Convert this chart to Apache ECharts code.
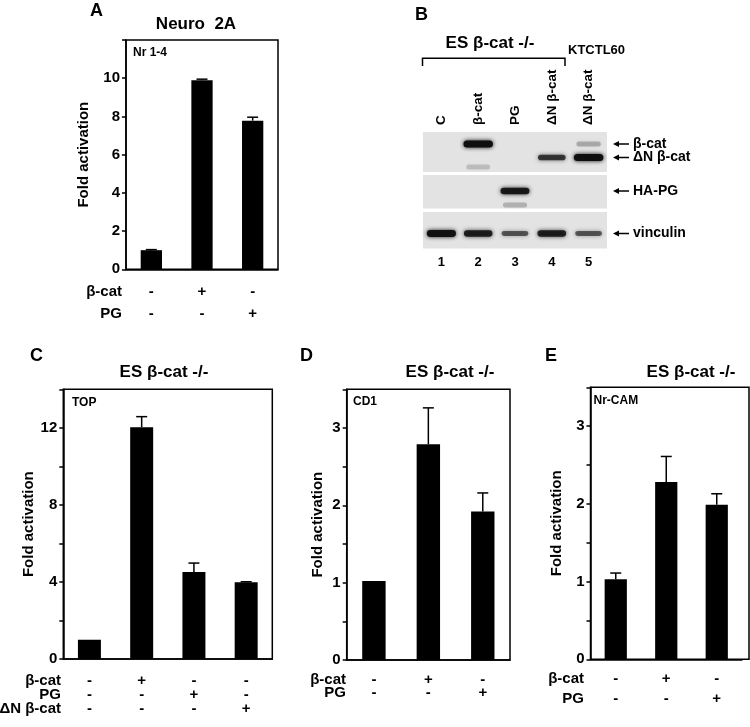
<!DOCTYPE html>
<html>
<head>
<meta charset="utf-8">
<script src="https://cdn.jsdelivr.net/npm/echarts@6/dist/echarts.min.js"></script>
<style>html,body{margin:0;padding:0;background:#fff}#chart{width:750px;height:727px}</style>
</head>
<body>
<div id="chart"></div>
<script>
// ---------- DATA ----------
// Panel A (Neuro 2A, Nr 1-4 reporter)
const aCategories = ['1', '2', '3'];
const aValues = [1.0, 9.9, 7.78];
const aErrors = [0.03, 0.05, 0.18];
const aRowNames = ['β-cat', 'PG'];
const aSigns = [['-', '+', '-'], ['-', '-', '+']];
const aTickLabels = ['0', '2', '4', '6', '8', '10'];

// Panel C (ES β-cat -/-, TOP reporter)
const cCategories = ['1', '2', '3', '4'];
const cValues = [1.0, 12.03, 4.51, 3.98];
const cErrors = [0, 0.55, 0.47, 0.03];
const cRowNames = ['β-cat', 'PG', 'ΔN β-cat'];
const cSigns = [['-', '+', '-', '-'], ['-', '-', '+', '-'], ['-', '-', '-', '+']];
const cTickLabels = ['0', '4', '8', '12'];

// Panel D (ES β-cat -/-, CD1 reporter)
const dCategories = ['1', '2', '3'];
const dValues = [1.02, 2.79, 1.92];
const dErrors = [0, 0.47, 0.24];
const dRowNames = ['β-cat', 'PG'];
const dSigns = [['-', '+', '-'], ['-', '-', '+']];
const dTickLabels = ['0', '1', '2', '3'];

// Panel E (ES β-cat -/-, Nr-CAM reporter)
const eCategories = ['1', '2', '3'];
const eValues = [1.03, 2.28, 1.99];
const eErrors = [0.08, 0.33, 0.14];
const eRowNames = ['β-cat', 'PG'];
const eSigns = [['-', '+', '-'], ['-', '-', '+']];
const eTickLabels = ['0', '1', '2', '3'];

// Panel B (western blot)
const blotLaneNames = ['C', 'β-cat', 'PG', 'ΔN β-cat', 'ΔN β-cat'];
const blotLaneNumbers = ['1', '2', '3', '4', '5'];
const blotMarkers = ['β-cat', 'ΔN β-cat', 'HA-PG', 'vinculin'];
// [lane index, protein, relative intensity]
const blotBands = [
  [1, 'β-cat', 1.0], [4, 'β-cat', 0.15],
  [3, 'ΔN β-cat', 0.7], [4, 'ΔN β-cat', 1.0],
  [1, 'β-cat degraded', 0.06],
  [2, 'HA-PG', 0.9], [2, 'HA-PG degraded', 0.1],
  [0, 'vinculin', 0.95], [1, 'vinculin', 0.85], [2, 'vinculin', 0.55],
  [3, 'vinculin', 0.85], [4, 'vinculin', 0.55]
];

// ---------- LAYOUT / STYLE ----------
const FONT = '"Liberation Sans", Arial, Helvetica, sans-serif';
const blotRowY = { 'β-cat': 14, 'ΔN β-cat': 27.5, 'β-cat degraded': 37, 'HA-PG': 61, 'HA-PG degraded': 75, 'vinculin': 103.5 };
const blotStrips = [[2, 42], [45, 78.5], [82, 118.5]];

const option = {
  animation: false,
  backgroundColor: '#ffffff',
  textStyle: { fontFamily: FONT },
  grid: [], xAxis: [], yAxis: [], series: [], graphic: []
};

function txt(text, x, y, size, align, extra) {
  option.graphic.push(Object.assign({
    type: 'text', x: x, y: y, silent: true,
    style: { text: text, font: 'bold ' + size + 'px ' + FONT, fill: '#000', textAlign: align || 'left', textVerticalAlign: 'middle' }
  }, extra || {}));
}

function addBarPanel(cfg) {
  const gi = option.grid.length;
  option.grid.push(Object.assign({ show: cfg.border, borderColor: '#000', borderWidth: 1.5, backgroundColor: 'transparent', containLabel: false }, cfg.grid));
  option.xAxis.push({
    type: 'category', gridIndex: gi, data: cfg.categories, boundaryGap: true,
    axisLine: { show: true, lineStyle: { color: '#000', width: 1.5 } },
    axisTick: { show: false },
    axisLabel: {
      interval: 0, margin: cfg.signMargin, color: '#000', fontFamily: FONT, fontWeight: 'bold', fontSize: 15,
      lineHeight: cfg.signLineHeight,
      formatter: function (v, idx) { return cfg.signs.map(function (r) { return r[idx]; }).join('\n'); }
    },
    splitLine: { show: false }
  });
  option.yAxis.push({
    type: 'value', gridIndex: gi, min: 0, max: cfg.yMax, interval: cfg.interval,
    name: 'Fold activation', nameLocation: 'middle', nameGap: cfg.nameGap, nameRotate: 90,
    nameTextStyle: { color: '#000', fontFamily: FONT, fontWeight: 'bold', fontSize: 15 },
    axisLine: { show: true, lineStyle: { color: '#000', width: 1.5 } },
    axisTick: { show: true, inside: false, length: 4, lineStyle: { color: '#000', width: 1.5 } },
    axisLabel: {
      margin: 6, color: '#000', fontFamily: FONT, fontWeight: 'bold', fontSize: 15,
      formatter: function (v) { return cfg.tickLabels.indexOf(String(v)) >= 0 ? String(v) : ''; }
    },
    splitLine: { show: false }
  });
  option.series.push({
    type: 'bar', xAxisIndex: gi, yAxisIndex: gi, data: cfg.values, barWidth: cfg.barWidth,
    itemStyle: { color: '#000' }, silent: true
  });
  option.series.push({
    type: 'custom', xAxisIndex: gi, yAxisIndex: gi, z: 5, silent: true, clip: false,
    data: cfg.values.map(function (v, i) { return [i, v, cfg.errors[i]]; }),
    encode: { x: 0, y: 1 },
    renderItem: function (params, api) {
      const i = api.value(0), v = api.value(1), e = api.value(2);
      if (!(e > 0)) return null;
      const b = api.coord([i, v]), t = api.coord([i, v + e]);
      return {
        type: 'group', children: [
          { type: 'line', shape: { x1: b[0], y1: b[1], x2: t[0], y2: t[1] }, style: { stroke: '#000', lineWidth: 1.5 } },
          { type: 'line', shape: { x1: t[0] - 5.5, y1: t[1], x2: t[0] + 5.5, y2: t[1] }, style: { stroke: '#000', lineWidth: 1.5 } }
        ]
      };
    }
  });
  // row names
  const axisY = cfg.grid.top + cfg.grid.height;
  cfg.rowNames.forEach(function (n, r) {
    txt(n, cfg.rowRight, axisY + cfg.signMargin + cfg.signLineHeight * (r + 0.5), 15, 'right');
  });
}

addBarPanel({ grid: { left: 126, top: 40, width: 152, height: 229.3 }, border: true, categories: aCategories, values: aValues, errors: aErrors,
  signs: aSigns, rowNames: aRowNames, tickLabels: aTickLabels, yMax: 12, interval: 2, barWidth: '42%',
  signMargin: 12, signLineHeight: 22, rowRight: 122, nameGap: 35 });
addBarPanel({ grid: { left: 63.3, top: 389.3, width: 209, height: 269.7 }, border: true, categories: cCategories, values: cValues, errors: cErrors,
  signs: cSigns, rowNames: cRowNames, tickLabels: cTickLabels, yMax: 14, interval: 2, barWidth: '44%',
  signMargin: 15, signLineHeight: 13.9, rowRight: 61, nameGap: 20 });
addBarPanel({ grid: { left: 346.7, top: 389.3, width: 163.3, height: 270.7 }, border: true, categories: dCategories, values: dValues, errors: dErrors,
  signs: dSigns, rowNames: dRowNames, tickLabels: dTickLabels, yMax: 3.5, interval: 0.5, barWidth: '43%',
  signMargin: 13, signLineHeight: 13.5, rowRight: 346, nameGap: 21 });
addBarPanel({ grid: { left: 590.5, top: 387.3, width: 151.5, height: 272 }, border: false, categories: eCategories, values: eValues, errors: eErrors,
  signs: eSigns, rowNames: eRowNames, tickLabels: eTickLabels, yMax: 3.5, interval: 0.5, barWidth: '44%',
  signMargin: 10, signLineHeight: 20, rowRight: 584, nameGap: 26 });
// panel E frame (slightly wider than its plot area)
option.graphic.push({ type: 'rect', silent: true, shape: { x: 590.5, y: 387.3, width: 158.5, height: 272 }, style: { fill: 'none', stroke: '#000', lineWidth: 1.5 } });

// ---------- BLOT (panel B) ----------
const bg = option.grid.length;
option.grid.push({ left: 423, top: 130, width: 184, height: 120, show: false });
option.xAxis.push({
  type: 'category', gridIndex: bg, position: 'top', data: blotLaneNames, boundaryGap: true,
  axisLine: { show: false }, axisTick: { show: false },
  axisLabel: { interval: 0, rotate: 90, margin: 5, color: '#000', fontFamily: FONT, fontWeight: 'bold', fontSize: 13.5 }
});
option.xAxis.push({
  type: 'category', gridIndex: bg, position: 'bottom', data: blotLaneNumbers, boundaryGap: true,
  axisLine: { show: false }, axisTick: { show: false },
  axisLabel: { interval: 0, margin: 6, color: '#000', fontFamily: FONT, fontWeight: 'bold', fontSize: 13 }
});
const bxTop = option.xAxis.length - 2;
option.yAxis.push({ type: 'value', gridIndex: bg, min: 0, max: 120, inverse: true, show: false });
const byIdx = option.yAxis.length - 1;

option.series.push({
  type: 'custom', xAxisIndex: bxTop, yAxisIndex: byIdx, silent: true, clip: false, z: 1,
  data: blotStrips.map(function (s) { return [0, s[0], s[1]]; }),
  renderItem: function (params, api) {
    const cs = params.coordSys;
    const y1 = api.coord([0, api.value(1)])[1], y2 = api.coord([0, api.value(2)])[1];
    return { type: 'rect', shape: { x: cs.x, y: y1, width: cs.width, height: y2 - y1 }, style: { fill: '#e3e3e3' } };
  }
});
option.series.push({
  type: 'custom', xAxisIndex: bxTop, yAxisIndex: byIdx, silent: true, clip: false, z: 2,
  data: blotBands.map(function (b) { return [b[0], blotRowY[b[1]], b[2]]; }),
  renderItem: function (params, api) {
    const c = api.coord([api.value(0), api.value(1)]);
    const it = api.value(2);
    const w = api.size([1, 0])[0] * (0.64 + 0.16 * Math.min(it, 1));
    const h = it < 0.2 ? 5 : 2.5 + 4.5 * it;
    const col = 'rgba(15,15,15,' + (0.12 + 0.88 * it).toFixed(2) + ')';
    return { type: 'rect', shape: { x: c[0] - w / 2, y: c[1] - h / 2, width: w, height: h, r: h / 2 },
      style: { fill: col, shadowBlur: 4, shadowColor: col } };
  }
});
option.series.push({
  type: 'custom', xAxisIndex: bxTop, yAxisIndex: byIdx, silent: true, clip: false, z: 3,
  data: blotMarkers.map(function (m, i) { return [0, blotRowY[m], i]; }),
  renderItem: function (params, api) {
    const cs = params.coordSys;
    const y = api.coord([0, api.value(1)])[1];
    const x0 = cs.x + cs.width + 6;
    return {
      type: 'group', children: [
        { type: 'line', shape: { x1: x0 + 4, y1: y, x2: x0 + 16, y2: y }, style: { stroke: '#000', lineWidth: 1.5 } },
        { type: 'polygon', shape: { points: [[x0, y], [x0 + 6, y - 3], [x0 + 6, y + 3]] }, style: { fill: '#000' } },
        { type: 'text', x: x0 + 20, y: y, style: { text: blotMarkers[api.value(2)], font: 'bold 14px ' + FONT, fill: '#000', textVerticalAlign: 'middle' } }
      ]
    };
  }
});

// ---------- TITLES / LABELS ----------
txt('A', 90, 11.5, 18);
txt('Neuro  2A', 196, 24.5, 17, 'center');
txt('Nr 1-4', 133, 53, 12);
txt('B', 415, 15, 18);
txt('ES β-cat -/-', 490, 43, 17, 'center');
txt('KTCTL60', 568, 50, 13);
option.graphic.push({ type: 'polyline', silent: true, shape: { points: [[422.5, 66], [422.5, 58.3], [565, 58.3], [565, 66]] }, style: { stroke: '#000', lineWidth: 1.5, fill: 'none' } });
txt('C', 30, 356.5, 18);
txt('ES β-cat -/-', 164, 372.5, 17, 'center');
txt('TOP', 72, 403, 12);
txt('D', 300, 356.5, 18);
txt('ES β-cat -/-', 450, 372.5, 17, 'center');
txt('CD1', 353, 401.7, 12);
txt('E', 545, 356.5, 18);
txt('ES β-cat -/-', 691, 372.5, 17, 'center');
txt('Nr-CAM', 593.5, 401, 12);

const chart = echarts.init(document.getElementById('chart'), null, { renderer: 'canvas' });
chart.setOption(option);
</script>
</body>
</html>
